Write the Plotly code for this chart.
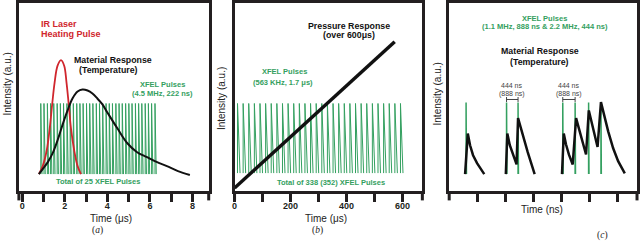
import plotly.graph_objects as go

# ---------------- panel (a): IR laser heating, 4.5 MHz XFEL train (time in µs) ----------------
a_pulse_times = [0.87, 1.02, 1.18, 1.33, 1.48, 1.64, 1.79, 1.94, 2.10, 2.25, 2.40, 2.56,
                 2.71, 2.86, 3.02, 3.17, 3.32, 3.48, 3.63, 3.78, 3.94, 4.09, 4.24, 4.40,
                 4.55, 4.70, 4.86, 5.01, 5.16, 5.32, 5.47, 5.62, 5.78, 5.93, 6.08, 6.24]
a_pulse_base = 17
a_pulse_peak = 88
a_laser_t = [0.78, 0.96, 1.15, 1.29, 1.41, 1.52, 1.66, 1.82, 1.97, 2.08, 2.18, 2.29, 2.44, 2.60, 2.76]
a_laser_i = [17, 25, 41, 63, 88, 109, 126, 131.5, 126, 109, 88, 63, 41, 25, 17]
a_temp_t = [0.78, 0.96, 1.20, 1.43, 1.66, 1.90, 2.13, 2.36, 2.60, 2.83, 3.07, 3.30, 3.53,
            3.77, 4.00, 4.47, 4.94, 5.40, 5.87, 6.34, 6.80, 7.32, 7.88]
a_temp_i = [17, 22, 29, 38, 51, 67, 81, 93, 100, 102, 101, 98, 93, 87, 79, 63, 48, 39, 34, 29, 25, 20, 16]
a_xticks = [0, 1, 2, 3, 4, 5, 6, 7, 8]
a_xticklabels = ["0", "", "2", "", "4", "", "6", "", "8"]

# ---------------- panel (b): pressure ramp, 563 kHz XFEL train (time in µs) ----------------
b_pulse_times = [10.6, 30.7, 50.7, 70.8, 90.9, 111.0, 131.0, 151.1, 171.2, 191.2,
                 211.3, 231.4, 251.4, 271.5, 291.6, 311.7, 331.7, 351.8, 371.9, 391.9,
                 412.0, 432.1, 452.1, 472.2, 492.3, 512.4, 532.4, 552.5, 572.6, 592.7]
b_pulse_base = 18
b_pulse_peak = 88
b_press_t = [0, 572]
b_press_i = [3, 150]
b_xticks = [0, 100, 200, 300, 400, 500, 600]
b_xticklabels = ["0", "", "200", "", "400", "", "600"]

# ---------------- panel (c): 1.1 / 2.2 MHz pulses and temperature (time in ns) ----------------
c_pulse_times = [646, 2193, 2633, 4343, 4815, 5331, 5803]
c_pulse_base = 17
c_pulse_peak = 89
c_temp_t = [608, 711, 798, 912, 1064, 1216, 1341, None,
            2166, 2223, 2318, 2451, 2576, 2633, 2736, 2869, 3002, 3135, 3268, None,
            4313, 4381, 4465, 4579, 4723, 4853, 4959, 5092, 5233, 5339, 5434, 5548, 5673,
            5803, 5928, 6080, 6270, 6460, 6715]
c_temp_i = [17, 57.7, 46, 36, 28, 21.5, 17, None,
            17, 57.7, 46, 35.5, 26.7, 73.3, 63, 51, 39, 28, 17, None,
            17, 57.7, 47, 36.5, 26.7, 73.3, 63, 49, 36.7, 81, 71, 57, 44.3,
            89.3, 76, 60, 43, 30, 17.7]
c_xticks = [1072, 2144, 3216, 4288, 5360, 6432]
c_bracket_pairs = [(2193, 2633), (4343, 4815)]
c_bracket_level = 92

FRAME = "#231f20"
GREEN = "#34a060"
RED = "#d0262d"
BLACK = "#111111"
FONT = "Liberation Sans, Arial, sans-serif"

W, H = 640, 241
TOP, BOTTOM = 2, 191


def spikes(times, base, peak, fall):
    xs, ys = [], []
    for t in times:
        xs += [t, t, t + fall, None]
        ys += [base, peak, base, None]
    return xs, ys


fig = go.Figure()

# panel a
xs, ys = spikes(a_pulse_times, a_pulse_base, a_pulse_peak, 0.06)
fig.add_trace(go.Scatter(x=xs, y=ys, mode="lines", line=dict(color=GREEN, width=1),
                         xaxis="x", yaxis="y", hoverinfo="skip"))
fig.add_trace(go.Scatter(x=a_laser_t, y=a_laser_i, mode="lines", line=dict(color=RED, width=1.8, shape="spline"),
                         xaxis="x", yaxis="y"))
fig.add_trace(go.Scatter(x=a_temp_t, y=a_temp_i, mode="lines", line=dict(color=BLACK, width=2, shape="spline"),
                         xaxis="x", yaxis="y"))

# panel b
xs, ys = spikes(b_pulse_times, b_pulse_base, b_pulse_peak, 9)
fig.add_trace(go.Scatter(x=xs, y=ys, mode="lines", line=dict(color=GREEN, width=1),
                         xaxis="x2", yaxis="y2", hoverinfo="skip"))
fig.add_trace(go.Scatter(x=b_press_t, y=b_press_i, mode="lines", line=dict(color=BLACK, width=3.5),
                         xaxis="x2", yaxis="y2"))

# panel c
xs, ys = spikes(c_pulse_times, c_pulse_base, c_pulse_peak, 15)
fig.add_trace(go.Scatter(x=xs, y=ys, mode="lines", line=dict(color=GREEN, width=1.5),
                         xaxis="x3", yaxis="y3", hoverinfo="skip"))
fig.add_trace(go.Scatter(x=c_temp_t, y=c_temp_i, mode="lines", line=dict(color=BLACK, width=2.5),
                         xaxis="x3", yaxis="y3"))


def xdom(l, r):
    return [l / W, r / W]


axis_common = dict(showline=True, mirror=True, linewidth=3, linecolor=FRAME, showgrid=False,
                   zeroline=False, fixedrange=True)
xcommon = dict(axis_common, ticks="outside", ticklen=8, tickwidth=2.5, tickcolor=FRAME,
               ticklabelstandoff=-4,
               tickfont=dict(family=FONT, size=9, color=FRAME, weight="bold"))
ycommon = dict(axis_common, showticklabels=False, ticks="", range=[0, 189], domain=[0, 1])

fig.update_layout(
    width=W, height=H, margin=dict(l=0, r=0, t=TOP, b=H - BOTTOM),
    paper_bgcolor="white", plot_bgcolor="white", showlegend=False,
    xaxis=dict(xcommon, domain=xdom(16, 207), range=[-0.159, 8.766], anchor="y",
               tickmode="array", tickvals=a_xticks, ticktext=a_xticklabels),
    yaxis=dict(ycommon, anchor="x"),
    xaxis2=dict(xcommon, domain=xdom(233, 422), range=[0, 670.9], anchor="y2",
                tickmode="array", tickvals=b_xticks, ticktext=b_xticklabels),
    yaxis2=dict(ycommon, anchor="x2"),
    xaxis3=dict(xcommon, domain=xdom(449, 638), range=[0, 7182], anchor="y3",
                tickmode="array", tickvals=c_xticks, showticklabels=False),
    yaxis3=dict(ycommon, anchor="x3"),
)


def P(px, py):
    return px / W, (BOTTOM - py) / (BOTTOM - TOP)


annots = []


def txt(s, px, py, size=9, color=BLACK, bold=False, anchor="center", angle=0, family=FONT):
    x, y = P(px, py)
    annots.append(dict(text=s, x=x, y=y, xref="paper", yref="paper", xanchor=anchor, yanchor="middle",
                       showarrow=False, textangle=angle,
                       font=dict(family=family, size=size, color=color, weight="bold" if bold else "normal")))


GS = 7.5
# panel a texts
txt("IR Laser", 36, 23.3, 9, RED, True, "left")
txt("Heating Pulse", 36, 33.3, 9, RED, True, "left")
txt("Material Response", 111, 59.3, 8.8, BLACK, True)
txt("(Temperature)", 106, 69.3, 8.8, BLACK, True)
txt("XFEL Pulses", 161, 84.3, GS, GREEN, True)
txt("(4.5 MHz, 222 ns)", 161, 93.3, GS, GREEN, True)
txt("Total of 25 XFEL Pulses", 95.3, 181.7, GS, GREEN, True)
# panel b texts
txt("Pressure Response", 348, 25, 8.8, BLACK, True)
txt("(over 600μs)", 348, 34.3, 8.8, BLACK, True)
txt("XFEL Pulses", 283, 71, GS, GREEN, True)
txt("(563 KHz, 1.7 μs)", 282, 82.3, GS, GREEN, True)
txt("Total of 338 (352) XFEL Pulses", 330, 182.3, GS, GREEN, True)
# panel c texts
txt("XFEL Pulses", 545, 17.3, GS, GREEN, True)
txt("(1.1 MHz, 888 ns & 2.2 MHz, 444 ns)", 545, 26, GS, GREEN, True)
txt("Material Response", 540, 50, 8.8, BLACK, True)
txt("(Temperature)", 540, 61, 8.8, BLACK, True)
for cx in (512, 569.5):
    txt("444 ns", cx, 85, 7, "#444444")
    txt("(888 ns)", cx, 93, 7, "#444444")
# axis titles
for px, py in ((5, 83), (220, 98), (437.7, 93)):
    txt("Intensity (a.u.)", px, py, 10, "#222222", angle=-90)
txt("Time (μs)", 109, 219, 10, "#222222")
txt("Time (μs)", 324.7, 219, 10, "#222222")
txt("Time (ns)", 542, 210, 10, "#222222")
txt("(<i>a</i>)", 95, 231, 9.5, "#222222", family="Liberation Serif, Times New Roman, serif")
txt("(<i>b</i>)", 316, 231, 9.5, "#222222", family="Liberation Serif, Times New Roman, serif")
txt("(<i>c</i>)", 603, 236, 9.5, "#222222", family="Liberation Serif, Times New Roman, serif")
fig.update_layout(annotations=annots)

# decorations: frame edges extending below the axis, and the 444 ns brackets in panel c
shapes = []
for xa, ya in (("x", "y"), ("x2", "y2"), ("x3", "y3")):
    for xe in (0, 1):
        shapes.append(dict(type="line", xref=f"{xa} domain", yref=f"{ya} domain", x0=xe, x1=xe,
                           y0=0, y1=-0.05, line=dict(color=FRAME, width=3)))
for t0, t1 in c_bracket_pairs:
    shapes.append(dict(type="line", xref="x3", yref="y3", x0=t0, x1=t1, y0=c_bracket_level, y1=c_bracket_level,
                       line=dict(color="#444444", width=1)))
    for t in (t0, t1):
        shapes.append(dict(type="line", xref="x3", yref="y3", x0=t, x1=t, y0=c_bracket_level - 2.5,
                           y1=c_bracket_level + 2.5, line=dict(color="#444444", width=1)))
fig.update_layout(shapes=shapes)

fig.write_html("out.html", config={"displayModeBar": False},
               post_script="document.body.style.margin='0';document.body.style.overflow='hidden';")
